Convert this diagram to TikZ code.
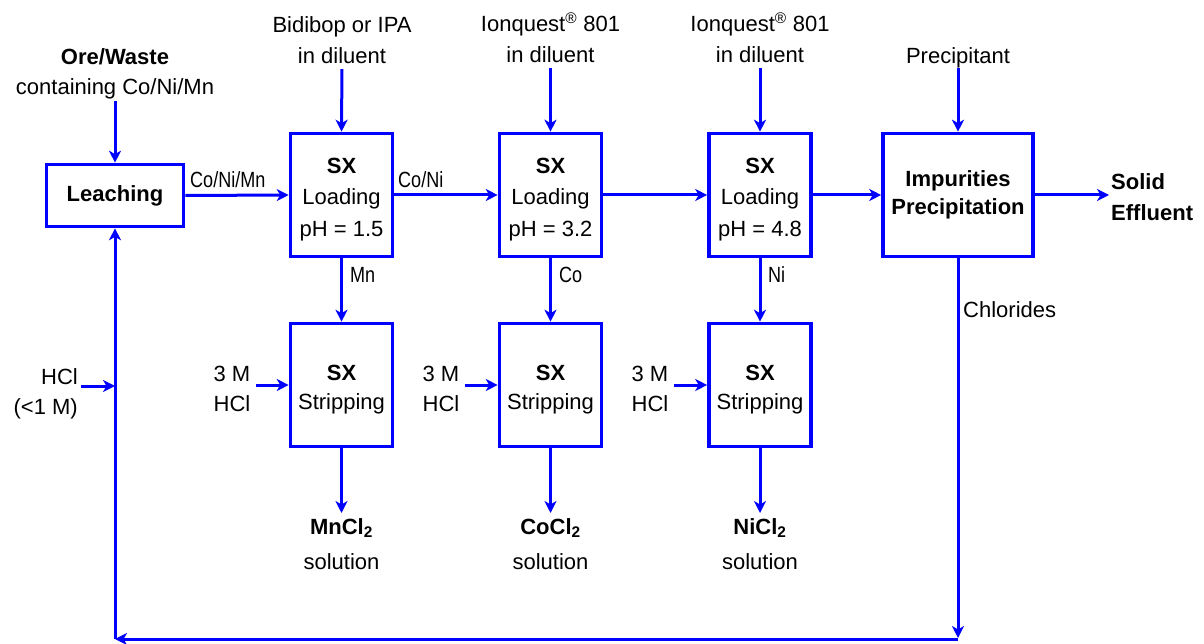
\documentclass[tikz,border=0pt]{standalone}
\usepackage{fontspec}
\setmainfont{Liberation Sans}
\newfontfamily\narrowfont[FakeStretch=0.82]{Liberation Sans}
\usetikzlibrary{arrows.meta}
\newcommand\fsmain{\fontsize{22}{31.5}\selectfont}
\newcommand\fsstrip{\fontsize{22}{29}\selectfont}
\newcommand\fstop{\fontsize{22}{31.5}\selectfont}
\newcommand\fsout{\fontsize{22}{35}\selectfont}
\newcommand\fsside{\fontsize{22}{30}\selectfont}
\newcommand\fslab{\narrowfont\fontsize{22}{26}\selectfont}
\newcommand\sxhead{\rule{0pt}{24pt}\textbf{SX}}
\begin{document}
\begin{tikzpicture}[x=1pt,y=-1pt,
  box/.style={draw=blue, line width=3.6pt, minimum width=102pt, minimum height=123pt, align=center, inner sep=2pt, font=\fsmain},
  txt/.style={inner sep=0pt, align=center, font=\fstop},
  outtxt/.style={inner sep=0pt, align=center, font=\fsout, anchor=north},
  sidetxt/.style={inner sep=0pt, font=\fsside, anchor=north},
  lab/.style={inner sep=0pt, font=\fslab, anchor=base west},
  arr/.style={draw=blue, line width=3pt, -{Stealth[length=12pt,width=12pt,inset=3.5pt]}}]
\useasboundingbox (0,0) rectangle (1204,644);

% process boxes
\node[box, minimum width=137pt, minimum height=62pt] (leach) at (115,195.5) {\textbf{Leaching}};
\node[box] (s1) at (341.5,195) {\sxhead\\Loading\\pH = 1.5};
\node[box] (s2) at (550.5,195) {\sxhead\\Loading\\pH = 3.2};
\node[box] (s3) at (760,195) {\sxhead\\Loading\\pH = 4.8};
\node[box, minimum width=150pt, font=\fontsize{22}{28}\selectfont\bfseries] (imp) at (958,195) {Impurities\\Precipitation};
\node[box, font=\fsstrip] (st1) at (341.5,385) {\sxhead\\Stripping};
\node[box, font=\fsstrip] (st2) at (550.5,385) {\sxhead\\Stripping};
\node[box, font=\fsstrip] (st3) at (760,385) {\sxhead\\Stripping};

% top feed texts
\node[txt, anchor=north, font=\fontsize{22}{30}\selectfont] (ore) at (115,48) {\textbf{Ore/Waste}\\containing Co/Ni/Mn};
\node[txt, anchor=north] (t1) at (342,16) {Bidibop or IPA\\in diluent};
\node[txt, anchor=north] (t2) at (550.5,13) {Ionquest\textsuperscript{®} 801\\in diluent};
\node[txt, anchor=north] (t3) at (760,13) {Ionquest\textsuperscript{®} 801\\in diluent};
\node[txt, anchor=north] (prec) at (958,47) {Precipitant};
\node[txt, anchor=north west, align=left, font=\fontsize{22}{31}\selectfont\bfseries] (solid) at (1111,173) {Solid\\Effluent};

% side inputs
\node[sidetxt, align=right, anchor=north east] (hcl0) at (78,368) {HCl\\(<1 M)};
\node[sidetxt, align=center] (h1) at (232,366) {3 M\\HCl};
\node[sidetxt, align=center] (h2) at (441,366) {3 M\\HCl};
\node[sidetxt, align=center] (h3) at (650,366) {3 M\\HCl};

% outputs
\node[outtxt] (o1) at (341.5,518) {\textbf{MnCl\textsubscript{2}}\\solution};
\node[outtxt] (o2) at (550.5,518) {\textbf{CoCl\textsubscript{2}}\\solution};
\node[outtxt] (o3) at (760,518) {\textbf{NiCl\textsubscript{2}}\\solution};

% stream labels
\node[lab] (lcnm) at (190,188) {Co/Ni/Mn};
\node[lab] (lcn) at (398,188) {Co/Ni};
\node[lab] (lmn) at (350,283) {Mn};
\node[lab] (lco) at (559,283) {Co};
\node[lab] (lni) at (768,283) {Ni};
\node[inner sep=0pt, font=\fsmain, anchor=west] (lcl) at (963,310) {Chlorides};

% loop coordinates
\coordinate (cR) at (958,639);
\coordinate (cL) at (115,639);
\coordinate (cH) at (115,386);

% feed arrows
\draw[arr, shorten <=2pt] (ore.south) -- (leach.north);
\draw[arr, shorten <=5pt] (t1.south) -- (s1.north);
\draw[arr, shorten <=5pt] (t2.south) -- (s2.north);
\draw[arr, shorten <=5pt] (t3.south) -- (s3.north);
\draw[arr] (prec.south) -- (imp.north);

% main line
\draw[arr] (leach.east) -- (s1.west);
\draw[arr] (s1.east) -- (s2.west);
\draw[arr] (s2.east) -- (s3.west);
\draw[arr] (s3.east) -- (imp.west);
\draw[arr, shorten >=2pt] (imp.east) -- (imp.east -| solid.west);

% loaded organic to stripping
\draw[arr] (s1.south) -- (st1.north);
\draw[arr] (s2.south) -- (st2.north);
\draw[arr] (s3.south) -- (st3.north);

% strip acid
\draw[arr, shorten <=5pt] (st1.west -| h1.east) -- (st1.west);
\draw[arr, shorten <=5pt] (st2.west -| h2.east) -- (st2.west);
\draw[arr, shorten <=5pt] (st3.west -| h3.east) -- (st3.west);

% products
\draw[arr, shorten >=5pt] (st1.south) -- (o1.north);
\draw[arr, shorten >=5pt] (st2.south) -- (o2.north);
\draw[arr, shorten >=5pt] (st3.south) -- (o3.north);

% recycle loop
\draw[arr, shorten >=1pt] (imp.south) -- (cR);
\draw[arr] (cR) -- (cL);
\draw[arr] (cL) -- (leach.south);
\draw[arr, shorten <=3pt] (cH -| hcl0.east) -- (cH);
\end{tikzpicture}
\end{document}
